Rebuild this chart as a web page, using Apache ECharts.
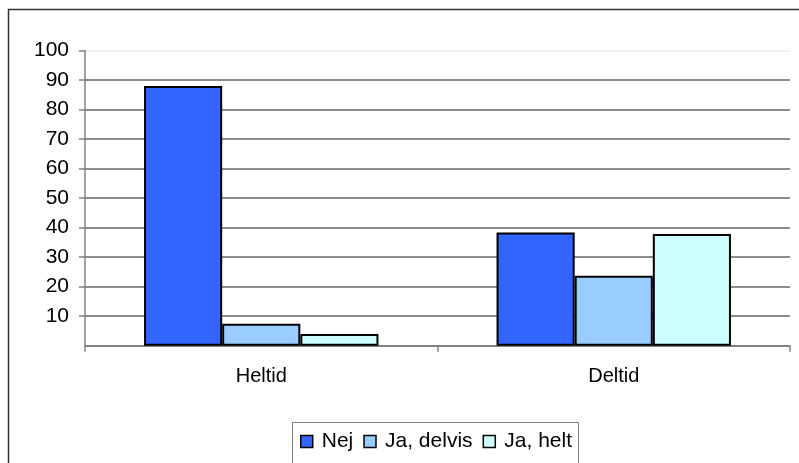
<!DOCTYPE html>
<html>
<head>
<meta charset="utf-8">
<script src="https://cdn.jsdelivr.net/npm/echarts@6/dist/echarts.min.js"></script>
<style>
  html, body { margin: 0; padding: 0; background: #fff; }
  #chart { width: 799px; height: 463px; }
</style>
</head>
<body>
<div id="chart"></div>
<script>
const categories = ["Heltid", "Deltid"];
const seriesNames = ["Nej", "Ja, delvis", "Ja, helt"];
const nejValues = [88, 38.4];
const delvisValues = [7.4, 23.7];
const heltValues = [4.0, 37.9];
const seriesColors = ["#3366FF", "#99CCFF", "#CCFFFF"];

const chart = echarts.init(document.getElementById("chart"));

// gridlines: last one (100) is almost invisible in the original
const gridColors = [];
for (let i = 0; i < 11; i++) gridColors.push(i === 10 ? "#f2f2f2" : "#8c8c8c");

const font = "Liberation Sans, Arial, sans-serif";

function bar(name, data, color) {
  return {
    name: name,
    type: "bar",
    data: data,
    barGap: "0%",
    barCategoryGap: "33.5%",
    itemStyle: { color: color, borderColor: "#000", borderWidth: 2 },
    emphasis: { disabled: true }
  };
}

chart.setOption({
  animation: false,
  grid: { left: 85, right: 9, top: 50.7, bottom: 117.3 },
  graphic: [
    {
      type: "rect",
      shape: { x: 8.5, y: 9.5, width: 900, height: 900 },
      style: { fill: null, stroke: "#333", lineWidth: 1.5 },
      z: -1
    },
    {
      type: "rect",
      shape: { x: 292.5, y: 422.5, width: 286, height: 80 },
      style: { fill: null, stroke: "#808080", lineWidth: 1 },
      z: -1
    }
  ],
  legend: {
    data: seriesNames,
    left: 300,
    top: 431,
    padding: 0,
    icon: "rect",
    itemWidth: 12,
    itemHeight: 12,
    itemGap: 10,
    textStyle: { fontFamily: font, fontSize: 21, color: "#000", padding: [0, 0, 0, 4] },
    itemStyle: { borderColor: "#000", borderWidth: 1.5 }
  },
  xAxis: {
    type: "category",
    data: categories,
    axisLine: { lineStyle: { color: "#808080", width: 1.5 } },
    axisTick: { show: true, length: 6, lineStyle: { color: "#808080", width: 1.5 } },
    axisLabel: { margin: 21, fontFamily: font, fontSize: 20, color: "#000" }
  },
  yAxis: {
    type: "value",
    min: 0,
    max: 100,
    interval: 10,
    axisLine: { show: true, lineStyle: { color: "#808080", width: 1.5 } },
    axisTick: { show: true, length: 6, lineStyle: { color: "#808080", width: 1.5 } },
    axisLabel: { showMinLabel: false, margin: 16, fontFamily: font, fontSize: 21, color: "#000" },
    splitLine: { show: true, lineStyle: { color: gridColors, width: 2 } }
  },
  series: [
    bar(seriesNames[0], nejValues, seriesColors[0]),
    bar(seriesNames[1], delvisValues, seriesColors[1]),
    bar(seriesNames[2], heltValues, seriesColors[2])
  ]
});
</script>
</body>
</html>
